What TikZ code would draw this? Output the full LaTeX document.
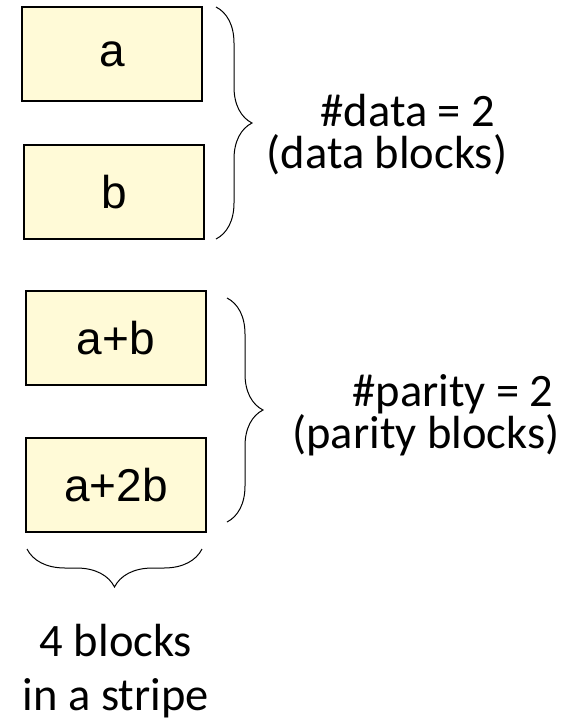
\documentclass[tikz,border=0pt]{standalone}
\usepackage{fontspec}
\setmainfont{Carlito}
\newfontfamily\boxfont{Liberation Sans}
\usetikzlibrary{positioning,decorations.pathreplacing}
\definecolor{blockfill}{RGB}{255,250,215}

\begin{document}
\begin{tikzpicture}[x=1pt,y=-1pt,
      block_node/.style={
         rectangle,
         draw=black,
         fill=blockfill,
         line width=2.6pt,
         inner sep=0pt,
         minimum width=180pt,
         minimum height=94pt,
         font=\boxfont\fontsize{46}{50}\selectfont},
      note_text/.style={
         anchor=base,
         align=center,
         inner sep=0pt,
         font=\fontsize{46.5}{#1}\selectfont},
      note_text/.default=42pt,
      brace_line/.style={
         decorate,
         decoration={brace,amplitude=#1,aspect=0.5},
         line width=1pt},
      brace_line/.default=36pt
]
      \useasboundingbox (0,0) rectangle (572,721);

      %blocks of the stripe
      \node[block_node] (a) at (112,54) {a};
      \node[block_node] (b) at (114,192) {b};
      \node[block_node] (ab) at (116,338) {a+b};
      \node[block_node] (a2b) at (116,485) {a+2b};

      %brace ends
      \coordinate (d1) at (216,7);
      \coordinate (d2) at (216,239);
      \coordinate (p1) at (227,298);
      \coordinate (p2) at (227,522);
      \coordinate (s1) at (202,549);
      \coordinate (s2) at (27,549);

      \draw [brace_line] (d1) -- (d2);
      \draw [brace_line] (p1) -- (p2);
      \draw [brace_line=38pt] (s1) -- (s2);

      %labels (base = last line)
      \node[note_text] (ndata) at (387,168) {\hspace*{42pt}\#data = 2\\(data blocks)};
      \node[note_text] (nparity) at (426,448) {\hspace*{54pt}\#parity = 2\\(parity blocks)};
      \node[note_text=54pt] (nstripe) at (116,710) {4 blocks\\in a stripe};

\end{tikzpicture}
\end{document}
